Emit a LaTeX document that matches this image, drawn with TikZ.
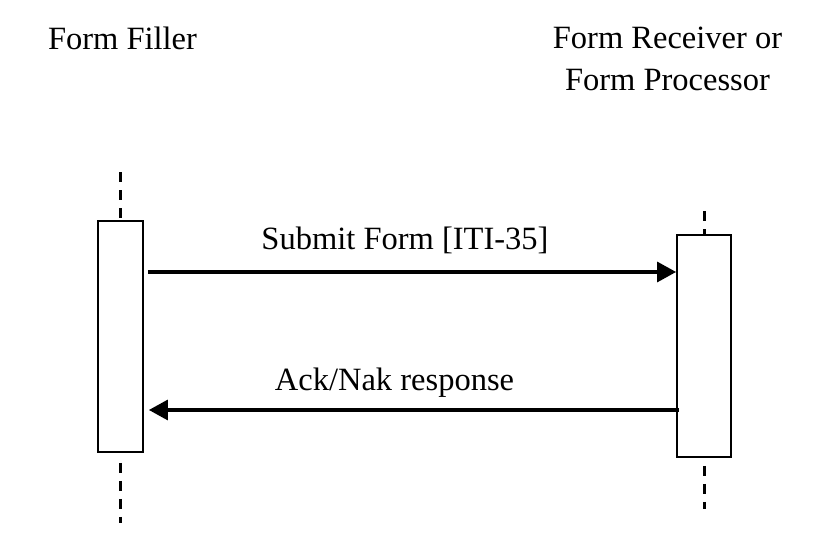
\documentclass[tikz,border=0pt]{standalone}
\usepackage{fontspec}
\setmainfont{Liberation Serif}
\usetikzlibrary{arrows.meta, positioning, calc}

\begin{document}
\begin{tikzpicture}[x=0.5pt, y=-0.5pt,
    every node/.style={font=\fontsize{16.25}{21}\selectfont, inner sep=0pt},
    actbox/.style={draw, line width=0.9pt, fill=white, minimum width=22.5pt},
    lifeline/.style={line width=1.5pt, dash pattern=on 5pt off 4pt},
    msg/.style={-{Triangle[length=9.5pt,width=10pt]}, line width=1.6pt}
]
    \useasboundingbox (0,0) rectangle (816,544);

    % Actors
    \node[anchor=base] (fillername) at (122.5,50) {Form Filler};
    \node[anchor=north, align=center] (receivername) at (667.5,27) {Form Receiver or\\Form Processor};

    % Activation boxes
    \node[actbox, minimum height=115.5pt] (filler) at (120.5,336.5) {};
    \node[actbox, minimum width=27pt, minimum height=111pt] (receiver) at (704,346) {};

    % Lifelines
    \draw[lifeline] ($(filler.north)+(0,-48)$) -- ($(filler.north)+(0,-2)$);
    \draw[lifeline] ($(filler.south)+(0,10)$) -- ($(filler.south)+(0,70)$);
    \draw[lifeline] ($(receiver.north)+(0,-23)$) -- (receiver.north);
    \draw[lifeline] ($(receiver.south)+(0,8)$) -- ($(receiver.south)+(0,51)$);

    % Messages
    \coordinate (submitY) at (0,272);
    \coordinate (ackY) at (0,410);
    \draw[msg] ($(filler.east |- submitY)+(4,0)$) -- (receiver.west |- submitY);
    \draw[msg] ($(receiver.west |- ackY)+(3,0)$) -- ($(filler.east |- ackY)+(5,0)$);
    \node[anchor=base] (submit) at (405,250) {Submit Form [ITI-35]};
    \node[anchor=base] (ack) at (394.5,391) {Ack/Nak response};
\end{tikzpicture}
\end{document}
